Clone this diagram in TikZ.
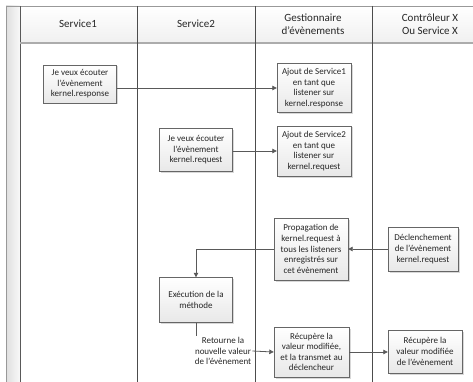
\documentclass[tikz,border=0pt]{standalone}
\usepackage{fontspec}
\setmainfont{Carlito}
\usepackage{tikz}
\usetikzlibrary{arrows.meta,shadows}

\begin{document}
\begin{tikzpicture}[x=1pt, y=-1pt,
    etape/.style={draw=gray!80!black, top color=white, bottom color=gray!18,
      drop shadow={shadow xshift=1.5pt, shadow yshift=-1.5pt, fill=gray!60, opacity=0.5},
      align=center, text=black!85, inner sep=1pt,
      font=\fontsize{9}{10.6}\selectfont},
    lien/.style={draw=gray!70!black, line width=0.8pt, -{Triangle[length=4.5pt, width=4.5pt]}},
    titre/.style={align=center, text=black!85, font=\fontsize{11}{13.5}\selectfont}]
    \clip (0,0) rectangle (473,382);

    % Swimlanes
    \shade[left color=gray!25, right color=gray!5] (6,6) rectangle (20,390);
    \shade[top color=white, bottom color=gray!12] (20,6) rectangle (490,43);
    \draw[gray!80] (6,390) -- (6,6) -- (490,6);
    \draw[gray!70!black] (20,6) -- (20,390);
    \draw[gray!65, line width=1.5pt] (20,43) -- (490,43);
    \foreach \x in {137,255,372}
        \draw[gray!60!black] (\x,6) -- (\x,390);

    % Titles
    \node[titre] (serv1) at (78,24) {Service1};
    \node[titre] (serv2) at (196,24) {Service2};
    \node[titre] (gest) at (313,24) {Gestionnaire\\d’évènements};
    \node[titre] (ctrl) at (430,24) {Contrôleur X\\Ou Service X};

    % Boxes
    \node[etape, minimum width=73pt, minimum height=38pt] (ecoute1) at (80,84) {Je veux écouter\\l’évènement\\kernel.response};
    \node[etape, minimum width=73pt, minimum height=43pt] (ecoute2) at (196,150) {Je veux écouter\\l’évènement\\kernel.request};
    \node[etape, minimum width=74pt, minimum height=49pt] (ajout1) at (314,88) {Ajout de Service1\\en tant que\\listener sur\\kernel.response};
    \node[etape, minimum width=74pt, minimum height=50pt] (ajout2) at (314,151) {Ajout de Service2\\en tant que\\listener sur\\kernel.request};
    \node[etape, minimum width=74pt, minimum height=62pt] (propag) at (311,249) {Propagation de\\kernel.request à\\tous les listeners\\enregistrés sur\\cet évènement};
    \node[etape, minimum width=70pt, minimum height=44pt] (declench) at (423,249) {Déclenchement\\de l’évènement\\kernel.request};
    \node[etape, minimum width=73pt, minimum height=45pt] (exec) at (196,300) {Exécution de la\\méthode};
    \node[etape, minimum width=75pt, minimum height=50pt] (recup) at (311.5,352) {Récupère la\\valeur modifiée,\\et la transmet au\\déclencheur};
    \node[etape, minimum width=74pt, minimum height=43pt] (recupfin) at (425,351.5) {Récupère la\\valeur modifiée\\de l’évènement};
    \node[align=center, text=black!85, inner sep=1pt, font=\fontsize{9}{10.6}\selectfont] (retour) at (223,351) {Retourne la\\nouvelle valeur\\de l’évènement};

    % Arrows
    \draw[lien] (ecoute1.east |- ajout1.west) -- (ajout1.west);
    \draw[lien] (ecoute2.east |- ajout2.west) -- (ajout2.west);
    \draw[lien] (declench.west) -- (propag.east);
    \draw[lien] (propag.west) -| (exec.north);
    \draw[gray!70!black, line width=0.8pt] (exec.south) -- (exec.south |- retour.north);
    \draw[lien] (retour.east) -- (recup.west);
    \draw[lien] (recup.east) -- (recup.east -| recupfin.west);
\end{tikzpicture}
\end{document}
